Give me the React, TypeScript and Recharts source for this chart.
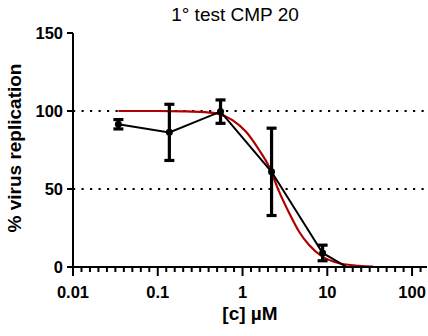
import React from 'react';
import { ComposedChart, Line, XAxis, YAxis, ErrorBar, ReferenceLine } from 'recharts';

// Measured data (mean ± SD)
const concentrations = [0.0343, 0.137, 0.55, 2.2, 8.8, 35];
const replication = [91.5, 86.3, 99.6, 61.0, 9.0, -10.0];
const replicationError = [3, 18, 7.5, 28, 5, 0];

// Fitted dose-response curve
const fitConcentrations = [0.0343, 0.1, 0.2, 0.35, 0.53, 0.76, 1.1, 1.57, 2.06, 2.7, 3.55, 4.65, 6.1, 8.75, 13.8, 23.7, 35];
const fitReplication = [100, 100, 99.8, 99.3, 98, 94.2, 86.7, 75, 64.3, 48.3, 34.6, 22.6, 14.1, 6.6, 2.4, 0.8, 0.3];

const xMajorTicks = [0.01, 0.1, 1, 10, 100];
const xMajorLabels = ['0.01', '0.1', '1', '10', '100'];
const yTicks = [0, 50, 100, 150];
const yTickLabels = ['0', '50', '100', '150'];
const gridValues = [50, 100];

const title = '1° test CMP 20';
const xTitle = '[c] µM';
const yTitle = '% virus replication';

const measured = concentrations.map((c, i) => ({ x: c, y: replication[i], err: replicationError[i] }));
const fitted = fitConcentrations.map((c, i) => ({ x: c, y: fitReplication[i] }));

// minor ticks every 0.1 decade
const xAllTicks: number[] = [];
for (let k = -20; k <= 21; k++) xAllTicks.push(Math.pow(10, k / 10));

const FONT = '"Liberation Sans", Arial, sans-serif';

const XTick = (props: any) => {
  const { x, y, payload } = props;
  const v = payload.value;
  const idx = xMajorTicks.findIndex((t) => Math.abs(t - v) / t < 1e-6);
  const major = idx >= 0;
  return (
    <g>
      <line x1={x} x2={x} y1={y} y2={y + (major ? 9 : 5)} stroke="#000" strokeWidth={2} />
      {major && (
        <text x={x} y={y + 31} textAnchor="middle" fontFamily={FONT} fontWeight="bold" fontSize={16.5} fill="#000">
          {xMajorLabels[idx]}
        </text>
      )}
    </g>
  );
};

const YTick = (props: any) => {
  const { x, y, payload } = props;
  const idx = yTicks.indexOf(payload.value);
  return (
    <g>
      <line x1={x - 6} x2={x} y1={y} y2={y} stroke="#000" strokeWidth={2} />
      <text x={x - 10} y={y + 6} textAnchor="end" fontFamily={FONT} fontWeight="bold" fontSize={16.5} fill="#000">
        {yTickLabels[idx]}
      </text>
    </g>
  );
};

const Dot = (props: any) => {
  const { cx, cy } = props;
  if (cx == null || cy == null || cy > 268) return null;
  return <circle cx={cx} cy={cy} r={3.5} fill="#000" />;
};

export default function App() {
  return (
    <div style={{ position: 'absolute', left: 0, top: 0, width: 428, height: 336, fontFamily: FONT }}>
      <ComposedChart width={428} height={336} margin={{ top: 33, right: 1, bottom: 0, left: 0 }}>
        <XAxis
          type="number"
          dataKey="x"
          scale="log"
          domain={[0.01, 150]}
          allowDataOverflow
          ticks={xAllTicks}
          interval={0}
          tick={<XTick />}
          tickLine={false}
          tickSize={0}
          tickMargin={0}
          height={69}
          axisLine={{ stroke: '#000', strokeWidth: 2 }}
        />
        <YAxis
          type="number"
          domain={[0, 150]}
          allowDataOverflow
          ticks={yTicks}
          interval={0}
          tick={<YTick />}
          tickLine={false}
          tickSize={0}
          tickMargin={0}
          width={73}
          axisLine={{ stroke: '#000', strokeWidth: 2 }}
        />
        {gridValues.map((g) => (
          <ReferenceLine key={g} y={g} stroke="#000" strokeWidth={2.2} strokeDasharray="2.2 6.3" />
        ))}
        <Line
          data={fitted}
          dataKey="y"
          type="monotone"
          stroke="#B00000"
          strokeWidth={2.2}
          dot={false}
          isAnimationActive={false}
        />
        <Line
          data={measured}
          dataKey="y"
          type="linear"
          stroke="#000"
          strokeWidth={2}
          dot={<Dot />}
          isAnimationActive={false}
        >
          <ErrorBar dataKey="err" width={5} stroke="#000" strokeWidth={3.2} direction="y" />
        </Line>
      </ComposedChart>
      <div style={{ position: 'absolute', left: 135, width: 200, top: 3, textAlign: 'center', fontSize: 19, lineHeight: '24px', color: '#000' }}>
        {title}
      </div>
      <div style={{ position: 'absolute', left: 150, width: 200, top: 302, textAlign: 'center', fontSize: 19, fontWeight: 'bold', lineHeight: '24px', color: '#000' }}>
        {xTitle}
      </div>
      <div
        style={{
          position: 'absolute',
          left: 15 - 110,
          top: 148 - 12,
          width: 220,
          textAlign: 'center',
          fontSize: 19,
          fontWeight: 'bold',
          lineHeight: '24px',
          color: '#000',
          transform: 'rotate(-90deg)',
          whiteSpace: 'nowrap',
        }}
      >
        {yTitle}
      </div>
    </div>
  );
}
